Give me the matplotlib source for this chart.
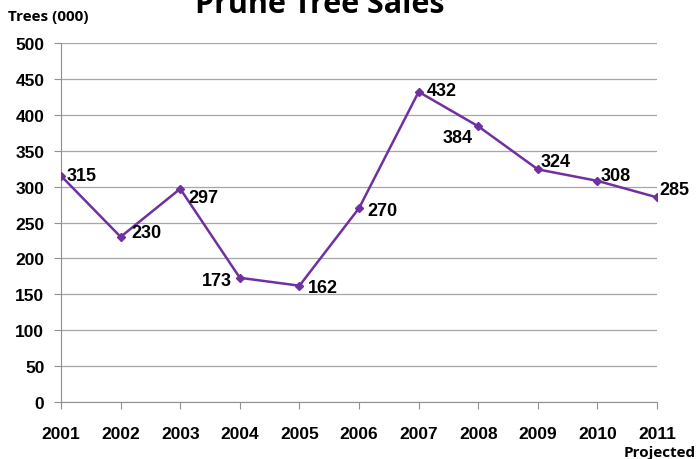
import matplotlib
matplotlib.use("Agg")
import matplotlib.pyplot as plt

years = ["2001", "2002", "2003", "2004", "2005", "2006", "2007", "2008", "2009", "2010", "2011"]
sales = [315, 230, 297, 173, 162, 270, 432, 384, 324, 308, 285]
yticks = [0, 50, 100, 150, 200, 250, 300, 350, 400, 450, 500]

# label offsets in points (dx, dy, ha)
offsets = [(4, 0, "left"), (8, 3, "left"), (6, -6, "left"), (-6, -2, "right"),
           (6, -1, "left"), (6, -2, "left"), (6, 1, "left"), (-4, -8, "right"),
           (2, 6, "left"), (2, 4, "left"), (2, 6, "left")]

purple = "#7030A0"
plt.rcParams["font.family"] = "Liberation Sans"

fig = plt.figure(figsize=(6.99, 4.60), dpi=100)
ax = fig.add_axes([0.0873, 0.1239, 0.8527, 0.7804])

x = list(range(len(years)))
ax.plot(x, sales, color=purple, lw=1.8, marker="D", ms=4.5, zorder=3)
for xi, v, (dx, dy, ha) in zip(x, sales, offsets):
    ax.annotate(str(v), (xi, v), xytext=(dx, dy), textcoords="offset points",
                ha=ha, va="center", fontsize=13, fontweight="bold")

ax.set_xlim(0, len(years) - 1)
ax.set_ylim(0, 500)
ax.set_yticks(yticks)
ax.set_xticks(x)
ax.set_xticklabels(years)
ax.grid(axis="y", color="#A6A6A6", lw=0.9)
ax.set_axisbelow(True)
for s in ["top", "right"]:
    ax.spines[s].set_visible(False)
for s in ["left", "bottom"]:
    ax.spines[s].set_color("#909090")
ax.tick_params(axis="y", length=5, color="#909090", labelsize=12.5, pad=7)
ax.tick_params(axis="x", length=5, color="#909090", labelsize=12.5, pad=12)
for lab in ax.get_xticklabels() + ax.get_yticklabels():
    lab.set_fontweight("bold")

fig.text(0.011, 0.963, "Trees (000)", fontsize=11, fontweight="bold", family="Open Sans", va="center")
fig.text(0.457, 0.99, "Prune Tree Sales", fontsize=22, fontweight="bold", family="Open Sans",
         ha="center", va="center")
fig.text(0.995, 0.016, "Projected", fontsize=11, fontweight="bold", family="Open Sans",
         ha="right", va="center")

fig.savefig("out.png", dpi=100)
